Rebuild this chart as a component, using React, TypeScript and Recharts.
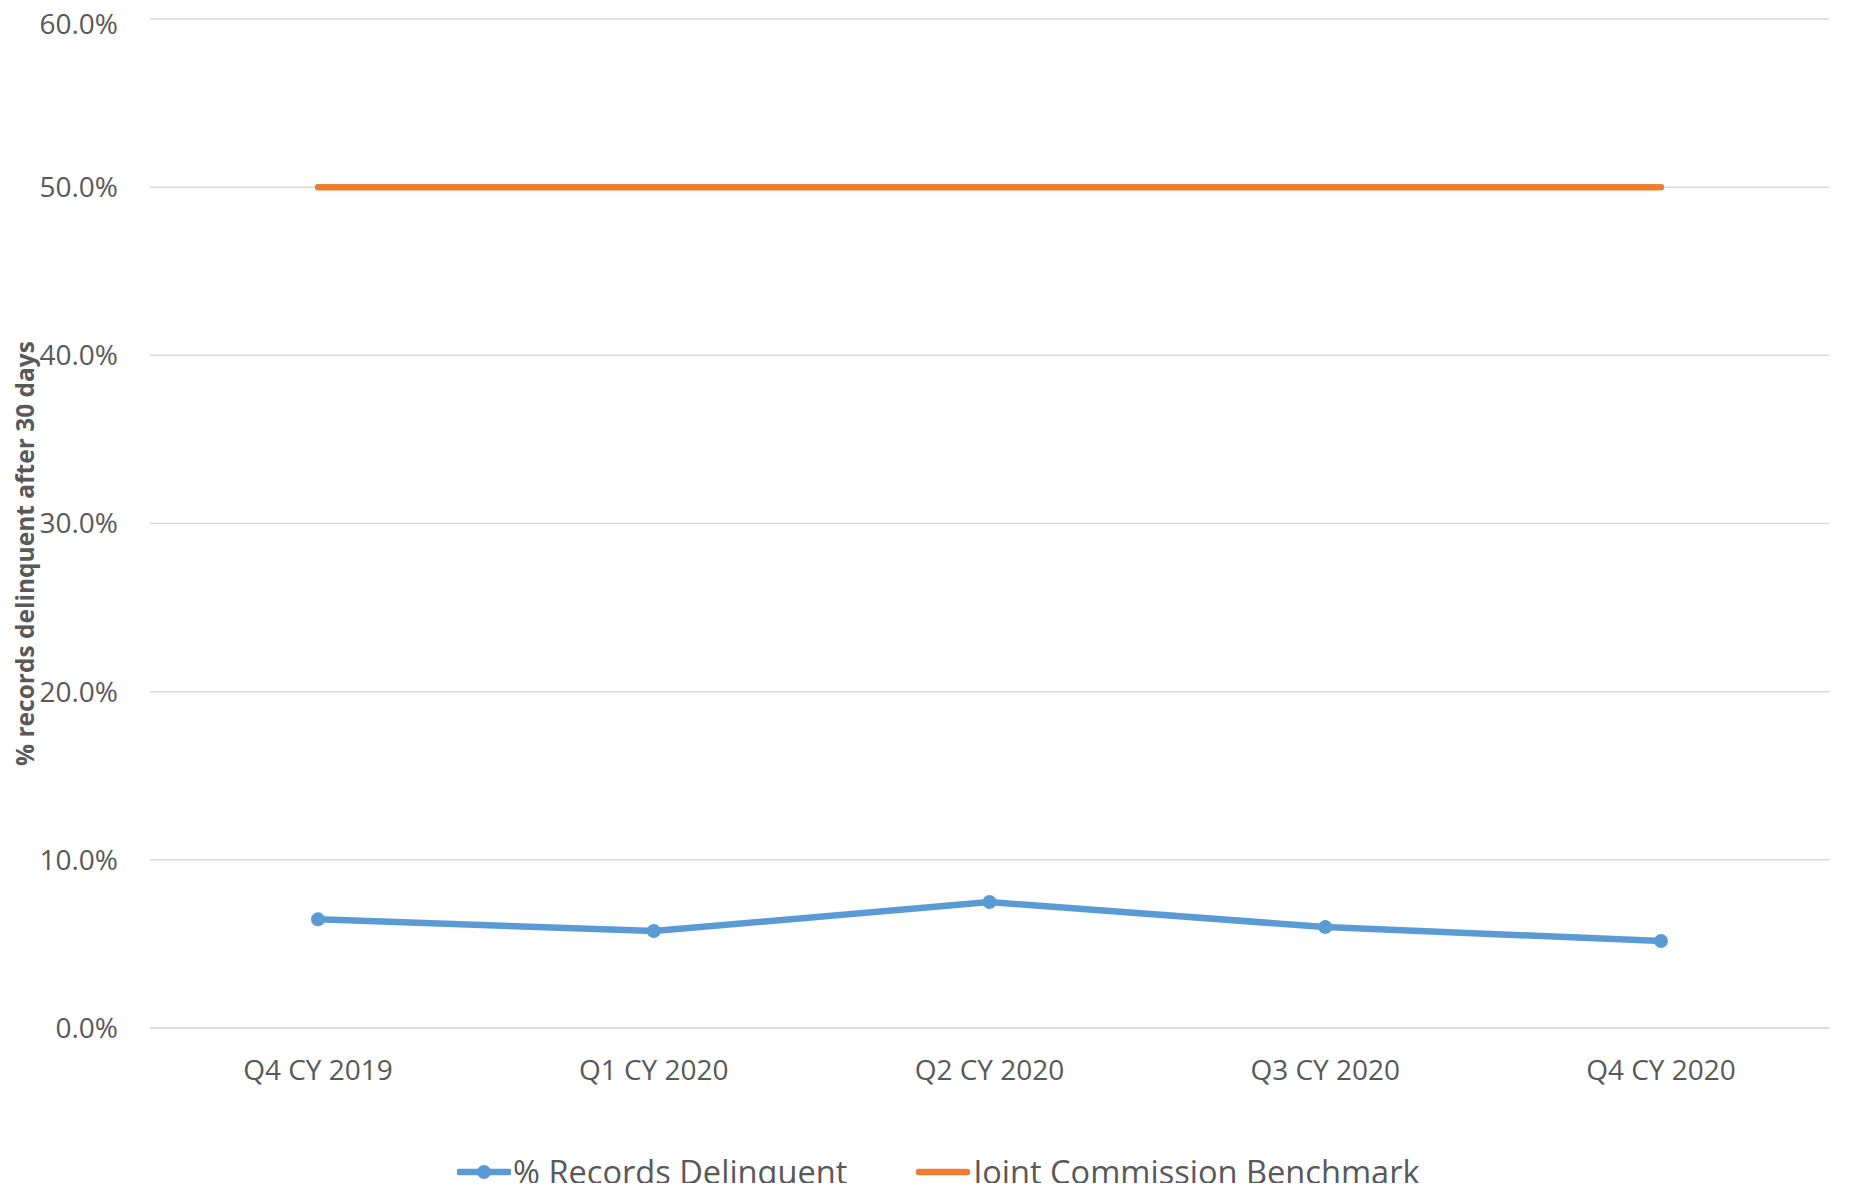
import React, { useLayoutEffect } from "react";
import { LineChart, Line, XAxis, YAxis, CartesianGrid, Legend } from "recharts";

const categories = ["Q4 CY 2019", "Q1 CY 2020", "Q2 CY 2020", "Q3 CY 2020", "Q4 CY 2020"];
const delinquent = [0.0646, 0.0577, 0.0749, 0.06, 0.0517];
const benchmark = [0.5, 0.5, 0.5, 0.5, 0.5];
const yTicks = [0, 0.1, 0.2, 0.3, 0.4, 0.5, 0.6];

const data = categories.map((c, i) => ({
  cat: c,
  delinquent: delinquent[i],
  benchmark: benchmark[i],
}));

const FONT = "'Open Sans', sans-serif";
const TEXT = "#595959";
const BLUE = "#5B9BD5";
const ORANGE = "#ED7D31";

const LegendContent = () => (
  <div
    style={{
      display: "flex",
      justifyContent: "flex-start",
      alignItems: "center",
      height: 38,
      fontFamily: FONT,
      fontSize: 32.6,
      lineHeight: "38px",
      color: TEXT,
      whiteSpace: "nowrap",
    }}
  >
    <div style={{ marginLeft: 449, display: "flex", alignItems: "center" }}>
      <svg width={54} height={20} style={{ display: "block" }}>
        <line x1={2} y1={10} x2={52} y2={10} stroke={BLUE} strokeWidth={6.5} strokeLinecap="round" />
        <circle cx={27} cy={10} r={7} fill={BLUE} />
      </svg>
      <span style={{ marginLeft: 2 }}>% Records Delinquent</span>
    </div>
    <div style={{ marginLeft: 68, display: "flex", alignItems: "center" }}>
      <svg width={56} height={20} style={{ display: "block" }}>
        <line x1={4} y1={10} x2={52} y2={10} stroke={ORANGE} strokeWidth={6.5} strokeLinecap="round" />
      </svg>
      <span style={{ marginLeft: 2 }}>Joint Commission Benchmark</span>
    </div>
  </div>
);

const YLabel = (props: any) => {
  const vb = props.viewBox || { x: 0, y: 0, width: 0, height: 0 };
  const cx = 16;
  const cy = vb.y + vb.height / 2 + 30;
  return (
    <text
      x={cx}
      y={cy}
      transform={`rotate(-90 ${cx} ${cy})`}
      textAnchor="middle"
      dominantBaseline="central"
      fill={TEXT}
      fontFamily={FONT}
      fontWeight={700}
      fontSize={24.5}
    >
      % records delinquent after 30 days
    </text>
  );
};

export default function App() {
  useLayoutEffect(() => {
    document.body.style.overflow = "hidden";
  }, []);
  return (
    <div style={{ width: 1835, height: 1183, marginBottom: -8 }}>
      <LineChart
        width={1835}
        height={1183}
        data={data}
        margin={{ top: 11, right: 14, bottom: 0, left: 0 }}
      >
        <CartesianGrid horizontal vertical={false} stroke="#D9D9D9" strokeWidth={1.5} />
        <XAxis
          dataKey="cat"
          scale="point"
          padding={{ left: 168, right: 168 }}
          height={125}
          tickLine={false}
          axisLine={{ stroke: "#D9D9D9", strokeWidth: 1.5 }}
          tickSize={0}
          tickMargin={32}
          tick={{ fill: TEXT, fontFamily: FONT, fontSize: 28 }}
          interval={0}
        />
        <YAxis
          domain={[0, 0.6]}
          ticks={yTicks}
          width={142}
          axisLine={false}
          tickLine={false}
          tickSize={0}
          tickMargin={32}
          tickFormatter={(v: number) => (v * 100).toFixed(1) + "%"}
          tick={{ fill: TEXT, fontFamily: FONT, fontSize: 28 }}
          label={{ content: YLabel }}
        />
        <Legend verticalAlign="bottom" align="left" height={38} content={LegendContent} />
        <Line
          type="linear"
          dataKey="delinquent"
          name="% Records Delinquent"
          stroke={BLUE}
          strokeWidth={6.5}
          dot={{ r: 7, fill: BLUE, stroke: BLUE, strokeWidth: 0 }}
          activeDot={false}
          isAnimationActive={false}
        />
        <Line
          type="linear"
          dataKey="benchmark"
          name="Joint Commission Benchmark"
          stroke={ORANGE}
          strokeWidth={6.5}
          strokeLinecap="round"
          dot={false}
          activeDot={false}
          isAnimationActive={false}
        />
      </LineChart>
    </div>
  );
}
